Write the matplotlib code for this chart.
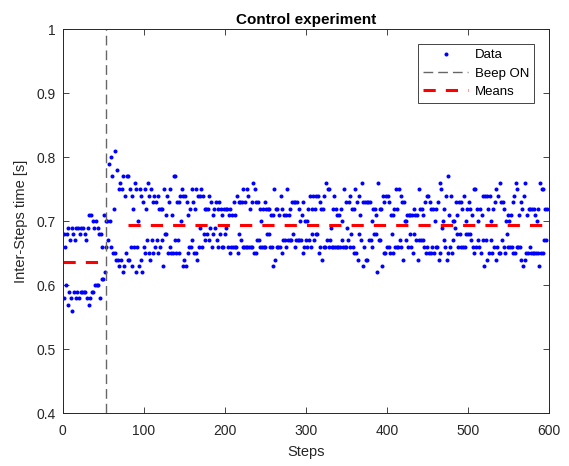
import numpy as np
import matplotlib
matplotlib.use("Agg")
import matplotlib.pyplot as plt

plt.rcParams['font.family'] = ['Liberation Sans', 'DejaVu Sans']

# ---- data (inter-step times in hundredths of a second) ----
pre_beep_cs = [68, 58, 66, 60, 68, 57, 69, 59, 67, 58, 69, 56, 68, 59, 67, 58, 69, 59, 69, 58,
               68, 59, 69, 59, 69, 59, 68, 59, 67, 58, 69, 57, 71, 58, 71, 59, 70, 59, 69, 60,
               70, 60, 69, 60, 68, 58, 68, 61, 66, 61, 71, 62, 70]
transition_cs = [66, 70, 67, 79, 70, 80, 66, 77, 65, 72, 65, 81, 64, 78, 64, 75, 63, 76, 64, 75,
                 62, 77, 63, 74, 65, 77, 64]
steady_cs = [
    77, 64, 75, 66, 74, 63, 72, 66, 76, 62, 75, 66, 70, 63, 75, 64, 74, 62, 73, 66,
    75, 65, 72, 67, 76, 65, 74, 64, 75, 67, 73, 65, 74, 66, 73, 67, 74, 65, 72, 66,
    72, 67, 72, 63, 75, 68, 71, 68, 74, 65, 73, 66, 75, 65, 71, 65, 77, 67, 77, 65,
    73, 67, 73, 65, 74, 70, 75, 63, 74, 64, 74, 63, 73, 65, 71, 66, 72, 66, 75, 67,
    73, 65, 72, 65, 75, 64, 74, 66, 74, 69, 75, 66, 74, 68, 72, 67, 72, 68, 72, 67,
    74, 69, 73, 66, 71, 68, 72, 69, 73, 67, 72, 66, 73, 68, 72, 66, 71, 66, 72, 68,
    72, 69, 72, 66, 71, 65, 72, 66, 71, 66, 73, 66, 71, 66, 74, 65, 73, 68, 73, 67,
    73, 66, 75, 66, 73, 66, 75, 66, 74, 66, 72, 66, 73, 66, 76, 65, 75, 65, 73, 67,
    73, 67, 72, 66, 70, 66, 72, 66, 73, 66, 72, 68, 72, 68, 72, 66, 71, 66, 71, 63,
    75, 64, 72, 66, 72, 66, 71, 66, 74, 65, 72, 67, 71, 67, 71, 66, 75, 67, 71, 67,
    72, 67, 73, 68, 73, 66, 73, 67, 73, 67, 72, 67, 70, 67, 71, 65, 73, 66, 70, 67,
    70, 66, 72, 67, 74, 66, 72, 68, 74, 67, 72, 68, 74, 68, 74, 65, 73, 66, 72, 64,
    72, 66, 74, 66, 76, 67, 75, 66, 75, 67, 69, 66, 72, 66, 74, 66, 72, 66, 71, 66,
    71, 66, 72, 67, 70, 66, 75, 66, 73, 66, 69, 67, 73, 66, 74, 68, 72, 66, 72, 65,
    75, 65, 73, 64, 74, 68, 71, 67, 76, 63, 73, 66, 73, 64, 73, 64, 73, 67, 73, 67,
    70, 66, 72, 68, 72, 68, 71, 62, 76, 67, 72, 67, 72, 63, 74, 65, 73, 65, 74, 66,
    74, 66, 73, 65, 71, 68, 71, 65, 72, 66, 75, 66, 72, 66, 75, 67, 74, 66, 73, 64,
    73, 70, 70, 67, 71, 66, 71, 68, 71, 66, 71, 65, 72, 68, 71, 67, 71, 64, 75, 67,
    72, 67, 72, 67, 71, 66, 73, 65, 74, 66, 74, 65, 73, 65, 72, 66, 72, 65, 70, 66,
    72, 66, 73, 64, 76, 65, 75, 69, 70, 67, 72, 66, 74, 64, 77, 65, 71, 66, 74, 65,
    70, 67, 70, 69, 73, 68, 71, 66, 73, 68, 73, 66, 72, 66, 74, 66, 70, 68, 72, 68,
    73, 68, 72, 67, 71, 66, 75, 65, 75, 66, 72, 67, 70, 66, 72, 65, 71, 67, 74, 63,
    74, 67, 74, 64, 72, 65, 74, 67, 70, 65, 72, 66, 73, 64, 75, 66, 74, 65, 76, 65,
    73, 67, 73, 66, 72, 65, 70, 68, 71, 66, 70, 66, 71, 66, 73, 65, 74, 65, 76, 66,
    75, 66, 71, 66, 73, 64, 72, 63, 74, 64, 76, 65, 71, 65, 72, 66, 72, 65, 72, 65,
    72, 65, 71, 65, 70, 65, 72, 63, 76, 65, 75, 65, 75, 67, 72, 67, 72,
]
beep_step = 53
mean_values = [0.637, 0.695]
mean_starts = [0, 80]
mean_ends = [53, 600]

x_ticks = [0, 100, 200, 300, 400, 500, 600]
y_ticks = [0.4, 0.5, 0.6, 0.7, 0.8, 0.9, 1.0]
y_tick_labels = ['0.4', '0.5', '0.6', '0.7', '0.8', '0.9', '1']

# ---- figure ----
times = np.array(pre_beep_cs + transition_cs + steady_cs) / 100.0
steps = np.arange(1, len(times) + 1)

fig = plt.figure(figsize=(5.69, 4.66), dpi=100)
ax = fig.add_axes([62.7 / 569, (466 - 413.3) / 466, 486.3 / 569, 384 / 466])

axc = '0.15'
ax.plot(steps, times, linestyle='none', marker='o', markersize=2.9,
        markeredgewidth=0, color=(0, 0, 1), label='Data')
ax.axvline(beep_step, color='0.4', linewidth=1.0, linestyle=(0, (7, 3.6)),
           label='Beep ON')
for i, (m, a, b) in enumerate(zip(mean_values, mean_starts, mean_ends)):
    ax.plot([a, b], [m, m], color=(1, 0, 0), linewidth=2.2,
            linestyle=(0, (4.0, 3.3)), label='Means' if i == 0 else None)

ax.set_xlim(0, 600)
ax.set_ylim(0.4, 1.0)
ax.set_xticks(x_ticks)
ax.set_xticklabels([str(t) for t in x_ticks])
ax.set_yticks(y_ticks)
ax.set_yticklabels(y_tick_labels)
ax.tick_params(axis='both', direction='in', length=4, width=0.6, colors=axc,
               labelsize=10, top=True, right=True)
ax.tick_params(axis='x', pad=8)
ax.tick_params(axis='y', pad=5)
for s in ax.spines.values():
    s.set_color(axc)
    s.set_linewidth(0.7)

ax.set_title('Control experiment', fontsize=11, fontweight='bold', color='black', pad=4)
ax.set_xlabel('Steps', fontsize=10.5, color=axc, labelpad=5)
ax.set_ylabel('Inter-Steps time [s]', fontsize=10.5, color=axc, labelpad=6)

leg = ax.legend(loc='upper right', fontsize=9.5, frameon=True, fancybox=False,
                edgecolor=axc, framealpha=1, borderaxespad=1.1, handlelength=3.4,
                handletextpad=0.5, labelspacing=0.45, borderpad=0.4)
leg.get_frame().set_linewidth(0.6)
for t in leg.get_texts():
    t.set_color('black')

fig.savefig('out.png', dpi=100)
